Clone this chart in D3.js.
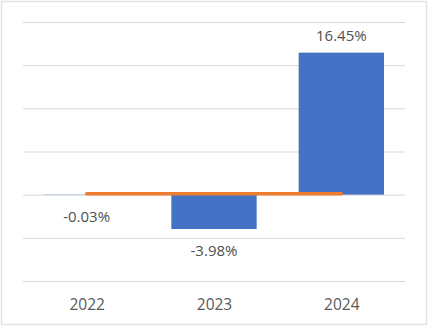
<!DOCTYPE html>
<html>
<head>
<meta charset="utf-8">
<script src="https://cdn.jsdelivr.net/npm/d3@7"></script>
<style>
  html, body { margin: 0; padding: 0; background: #fff; }
  svg { display: block; }
</style>
</head>
<body>
<svg id="chart" width="429" height="328"></svg>
<script>
const categories = ["2022", "2023", "2024"];
const barValues = [-0.03, -3.98, 16.45];
const lineValues = [0, 0, 0];
const barLabels = ["-0.03%", "-3.98%", "16.45%"];
const yTicks = [-10, -5, 0, 5, 10, 15, 20];

const svg = d3.select("#chart");
const W = 429, H = 328;
const margin = { left: 23, right: 24, top: 22, bottom: 47 };

svg.append("rect")
  .attr("x", 1.5).attr("y", 1.5)
  .attr("width", W - 4).attr("height", H - 5)
  .attr("fill", "#fff").attr("stroke", "#e2e2e2").attr("stroke-width", 1.5);

const x = d3.scaleBand()
  .domain(categories)
  .range([margin.left, W - margin.right])
  .paddingInner(0.33).paddingOuter(0.165);

const xc = d3.scalePoint()
  .domain(categories)
  .range([margin.left, W - margin.right])
  .padding(0.5);

const y = d3.scaleLinear()
  .domain([-10, 20])
  .range([H - margin.bottom, margin.top]);

// gridlines
const grid = svg.append("g")
  .attr("transform", `translate(${margin.left},0)`)
  .call(d3.axisLeft(y).tickValues(yTicks).tickSize(-(W - margin.left - margin.right)).tickFormat(""));
grid.select(".domain").remove();
grid.selectAll(".tick line").attr("stroke", "#d9d9d9").attr("stroke-width", 1);

// bars
svg.append("g").selectAll("rect")
  .data(barValues)
  .join("rect")
  .attr("x", (d, i) => x(categories[i]))
  .attr("width", x.bandwidth())
  .attr("y", d => Math.min(y(d), y(0)))
  .attr("height", d => Math.abs(y(d) - y(0)))
  .attr("fill", "#4472C4");

// line
const line = d3.line()
  .x((d, i) => xc(categories[i]))
  .y(d => y(d) - 1);
svg.append("path")
  .datum(lineValues)
  .attr("d", line)
  .attr("fill", "none")
  .attr("stroke", "#ED7D31")
  .attr("stroke-width", 3.5)
  .attr("stroke-linecap", "round");

// data labels
const font = "'Open Sans', Lato, 'Liberation Sans', sans-serif";
svg.append("g").selectAll("text")
  .data(barValues)
  .join("text")
  .attr("x", (d, i) => xc(categories[i]))
  .attr("y", d => d >= 0 ? y(d) - 12 : Math.max(y(d), y(0)) + 27)
  .attr("text-anchor", "middle")
  .attr("font-family", font)
  .attr("font-size", 15)
  .attr("fill", "#505050")
  .text((d, i) => barLabels[i]);

// x axis labels
const xa = svg.append("g")
  .attr("transform", `translate(0,${H - margin.bottom})`)
  .call(d3.axisBottom(xc).tickSize(0).tickPadding(18));
xa.select(".domain").remove();
xa.selectAll("text")
  .attr("font-family", font)
  .attr("font-size", 15.5)
  .attr("fill", "#595959");
</script>
</body>
</html>
